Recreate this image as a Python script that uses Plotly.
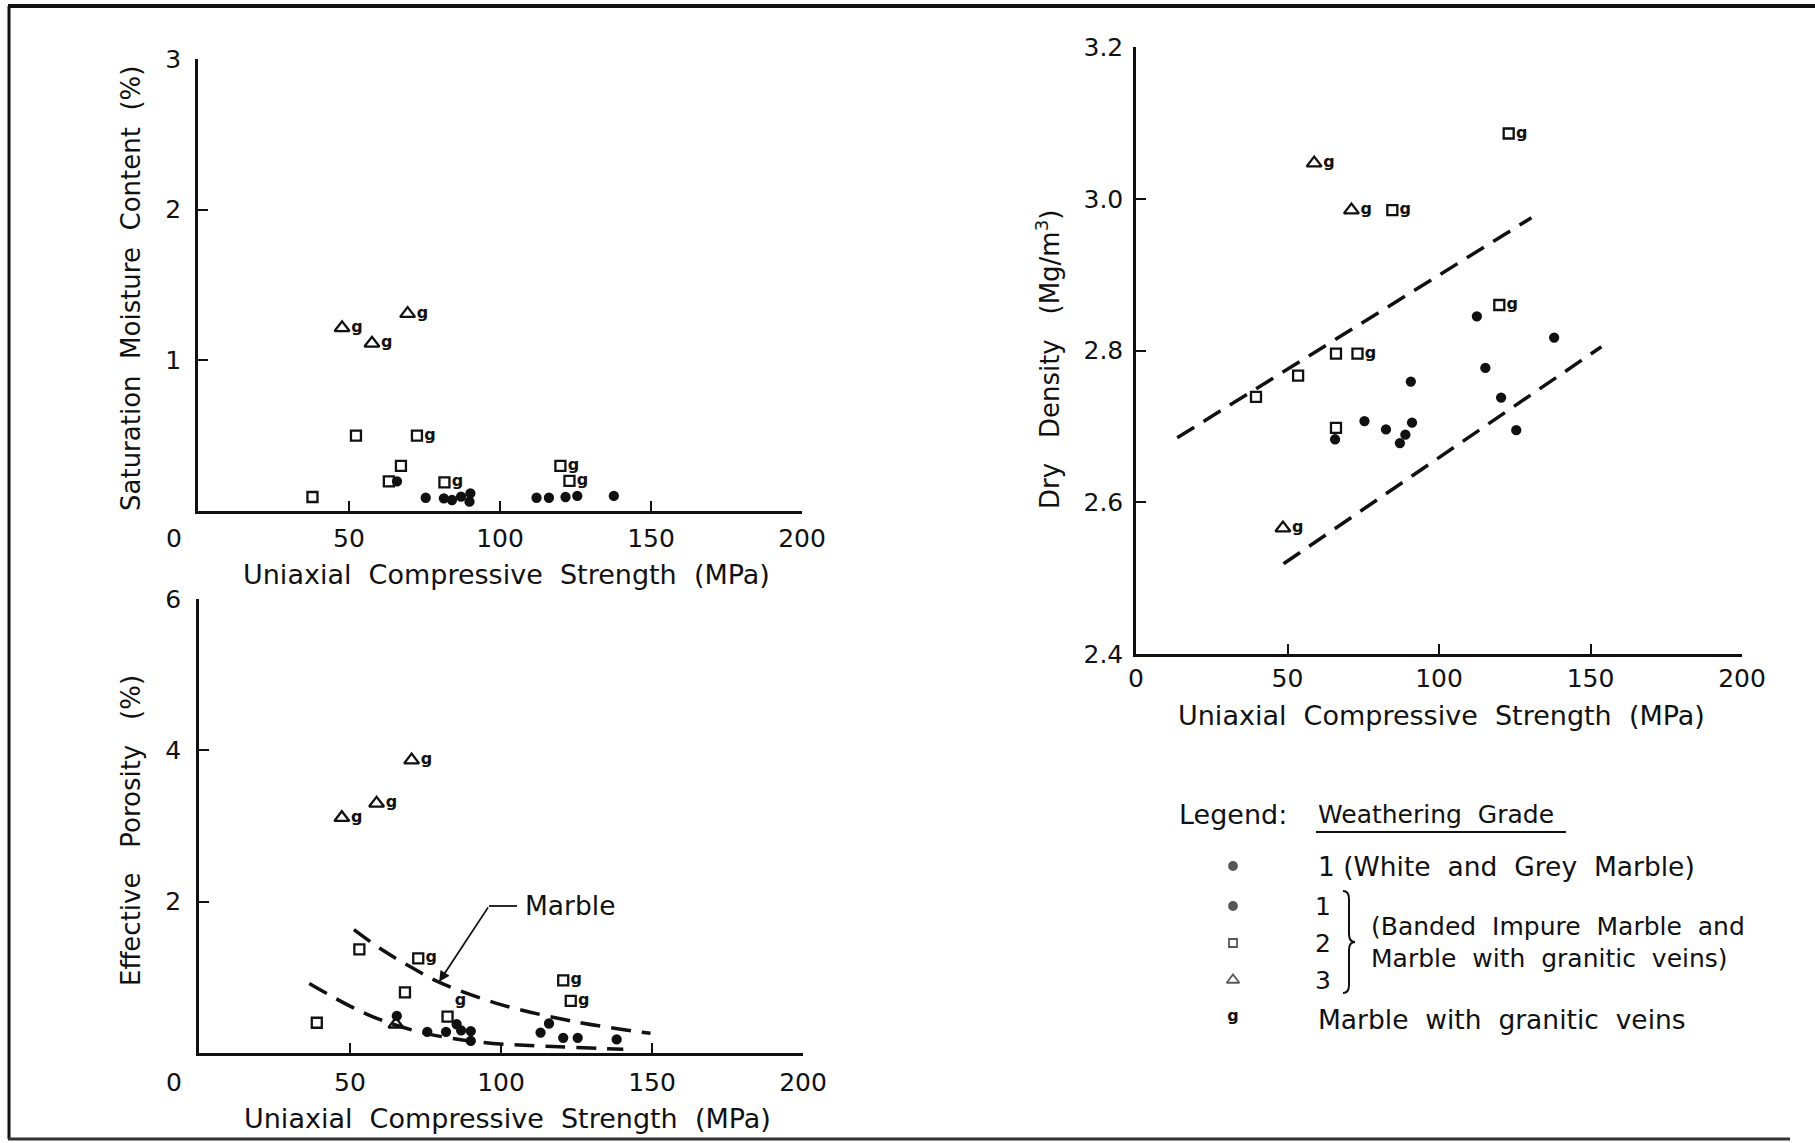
import plotly.graph_objects as go

W, H = 1815, 1143
FONT = "DejaVu Sans"
BLACK = "#111111"

# ---------------- Saturation moisture content (top-left) ----------------
sat_g1_ucs = [65.9, 75.4, 81.4, 84.1, 87.1, 90.2, 89.9, 112.1, 116.2, 121.7, 125.6, 137.7]
sat_g1_val = [0.197, 0.088, 0.084, 0.073, 0.095, 0.117, 0.062, 0.088, 0.088, 0.093, 0.100, 0.100]
sat_g2_ucs = [37.9, 52.3, 72.5, 67.2, 63.2, 81.6, 120.0, 123.0]
sat_g2_val = [0.093, 0.50, 0.50, 0.30, 0.197, 0.19, 0.30, 0.20]
sat_g2_veins = [False, False, True, False, False, True, True, True]
sat_g3_ucs = [47.7, 57.6, 69.4]
sat_g3_val = [1.216, 1.113, 1.310]
sat_g3_veins = [True, True, True]

# ---------------- Effective porosity (bottom-left) ----------------
por_g1_ucs = [65.5, 75.6, 81.8, 85.3, 86.8, 90.0, 90.0, 113.1, 115.9, 120.6, 125.4, 138.3]
por_g1_val = [0.49, 0.28, 0.28, 0.38, 0.30, 0.29, 0.16, 0.27, 0.39, 0.20, 0.20, 0.18]
por_g2_ucs = [39.0, 53.1, 72.6, 68.2, 82.3, 120.6, 123.1]
por_g2_val = [0.40, 1.37, 1.25, 0.80, 0.48, 0.96, 0.69]
por_g2_veins = [False, False, True, False, True, True, True]
por_g2_gpos = ["middle right", "middle right", "middle right", "middle right",
               "top right", "middle right", "middle right"]
por_g3_ucs = [47.3, 58.8, 70.4, 65.2]
por_g3_val = [3.11, 3.30, 3.87, 0.38]
por_g3_veins = [True, True, True, False]
# dashed "Marble" envelope curves
por_upper_ucs = [51.3, 60, 70, 79.8, 100, 125, 149.5]
por_upper_val = [1.63, 1.38, 1.14, 0.93, 0.64, 0.41, 0.26]
por_lower_ucs = [36.5, 50, 60, 75, 94, 115, 140.5]
por_lower_val = [0.92, 0.62, 0.44, 0.26, 0.14, 0.09, 0.05]

# ---------------- Dry density (right) ----------------
dd_g1_ucs = [112.5, 138.0, 115.3, 90.7, 120.5, 75.4, 91.1, 82.5, 65.7, 88.9, 87.1, 125.5]
dd_g1_val = [2.845, 2.817, 2.777, 2.759, 2.738, 2.707, 2.705, 2.696, 2.683, 2.689, 2.678, 2.695]
dd_g2_ucs = [123.0, 84.6, 119.9, 66.0, 73.1, 53.5, 39.6, 66.0]
dd_g2_val = [3.086, 2.985, 2.860, 2.796, 2.796, 2.767, 2.739, 2.698]
dd_g2_veins = [True, True, True, False, True, False, False, False]
dd_g3_ucs = [58.8, 71.1, 48.5]
dd_g3_val = [3.047, 2.985, 2.566]
dd_g3_veins = [True, True, True]
dd_upper_ucs = [13.6, 130.5]
dd_upper_val = [2.685, 2.975]
dd_lower_ucs = [48.7, 153.6]
dd_lower_val = [2.519, 2.805]

x_ticks_left = [50, 100, 150, 200]
sat_ticks = [1, 2, 3]
por_ticks = [2, 4, 6]
x_ticks_right = [0, 50, 100, 150, 200]
dd_ticks = [2.4, 2.6, 2.8, 3.0, 3.2]

fig = go.Figure()


def add_group(xa, ya, ucs, vals, symbol, size, veins=None, gpos="middle right"):
    text = ["g" if v else "" for v in veins] if veins else None
    fig.add_trace(go.Scatter(
        x=ucs, y=vals, xaxis=xa, yaxis=ya,
        mode="markers+text" if veins else "markers",
        text=text, textposition=gpos,
        textfont=dict(family=FONT, size=16, color=BLACK, weight="bold"),
        marker=dict(symbol=symbol, size=size, color=BLACK,
                    line=dict(color=BLACK, width=2.3)),
        cliponaxis=False, showlegend=False, hoverinfo="skip"))


def add_dash(xa, ya, ucs, vals, shape="linear"):
    fig.add_trace(go.Scatter(
        x=ucs, y=vals, xaxis=xa, yaxis=ya, mode="lines",
        line=dict(color=BLACK, width=3.5, dash="20px,11px", shape=shape),
        showlegend=False, hoverinfo="skip"))


# top-left
add_group("x", "y", sat_g1_ucs, sat_g1_val, "circle", 8)
add_group("x", "y", sat_g2_ucs, sat_g2_val, "square-open", 10, sat_g2_veins)
add_group("x", "y", sat_g3_ucs, sat_g3_val, "triangle-up-open", 13, sat_g3_veins)
# bottom-left
add_dash("x2", "y2", por_upper_ucs, por_upper_val, "spline")
add_dash("x2", "y2", por_lower_ucs, por_lower_val, "spline")
add_group("x2", "y2", por_g1_ucs, por_g1_val, "circle", 8)
add_group("x2", "y2", por_g2_ucs, por_g2_val, "square-open", 10, por_g2_veins, por_g2_gpos)
add_group("x2", "y2", por_g3_ucs, por_g3_val, "triangle-up-open", 13, por_g3_veins)
# right
add_dash("x3", "y3", dd_upper_ucs, dd_upper_val)
add_dash("x3", "y3", dd_lower_ucs, dd_lower_val)
add_group("x3", "y3", dd_g1_ucs, dd_g1_val, "circle", 8)
add_group("x3", "y3", dd_g2_ucs, dd_g2_val, "square-open", 10, dd_g2_veins)
add_group("x3", "y3", dd_g3_ucs, dd_g3_val, "triangle-up-open", 13, dd_g3_veins)

# legend glyphs (pixel overlay axis)
leg_x = [1233, 1233, 1233, 1233]
leg_y = [866, 906, 943, 980]
leg_sym = ["circle", "circle", "square-open", "triangle-up-open"]
leg_size = [8, 8, 8, 11]
fig.add_trace(go.Scatter(
    x=leg_x, y=leg_y, xaxis="x4", yaxis="y4", mode="markers",
    marker=dict(symbol=leg_sym, size=leg_size, color=BLACK, line=dict(color=BLACK, width=1.8)),
    showlegend=False, hoverinfo="skip", cliponaxis=False))
fig.add_trace(go.Scatter(
    x=[1233], y=[1017], xaxis="x4", yaxis="y4", mode="text", text=["g"],
    textfont=dict(family=FONT, size=16, color=BLACK, weight="bold"),
    showlegend=False, hoverinfo="skip", cliponaxis=False))


def px_x(p):
    return p / W


def px_y(p):
    return 1 - p / H


common = dict(showline=True, linecolor=BLACK, linewidth=2.5, ticks="inside",
              ticklen=10, tickwidth=2, tickcolor=BLACK, showgrid=False,
              zeroline=False, fixedrange=True, automargin=False,
              tickfont=dict(family=FONT, size=25, color=BLACK))

fig.update_layout(
    width=W, height=H, autosize=False,
    margin=dict(l=0, r=0, t=0, b=0, pad=0, autoexpand=False),
    paper_bgcolor="white", plot_bgcolor="rgba(0,0,0,0)",
    font=dict(family=FONT, color=BLACK), showlegend=False,
    xaxis=dict(domain=[px_x(198), px_x(802)], range=[0, 200], anchor="y",
               tickvals=x_ticks_left, ticklabelstandoff=3, **common),
    yaxis=dict(domain=[px_y(511), px_y(59)], range=[0, 3], anchor="x",
               tickvals=sat_ticks, ticklabelstandoff=9, **common),
    xaxis2=dict(domain=[px_x(199), px_x(803)], range=[0, 200], anchor="y2",
                tickvals=x_ticks_left, ticklabelstandoff=5, **common),
    yaxis2=dict(domain=[px_y(1053), px_y(599)], range=[0, 6], anchor="x2",
                tickvals=por_ticks, ticklabelstandoff=10, **common),
    xaxis3=dict(domain=[px_x(1136), px_x(1742)], range=[0, 200], anchor="y3",
                tickvals=x_ticks_right, ticklabelstandoff=0, **common),
    yaxis3=dict(domain=[px_y(654), px_y(47)], range=[2.4, 3.2], anchor="x3",
                tickvals=dd_ticks, tickformat=".1f", ticklabelstandoff=5, **common),
    xaxis4=dict(domain=[0, 1], range=[0, W], anchor="y4", visible=False,
                fixedrange=True, automargin=False),
    yaxis4=dict(domain=[0, 1], range=[H, 0], anchor="x4", visible=False,
                fixedrange=True, automargin=False),
)


def txt(x, y, s, xanchor="center", angle=0, size=25):
    fig.add_annotation(x=x, y=y, xref="x4", yref="y4", text=s, showarrow=False,
                       xanchor=xanchor, yanchor="middle", textangle=angle,
                       font=dict(family=FONT, size=size, color=BLACK))


# axis titles
txt(506, 574, "Uniaxial  Compressive  Strength  (MPa)", size=27)
txt(507, 1118, "Uniaxial  Compressive  Strength  (MPa)", size=27)
txt(1441, 715, "Uniaxial  Compressive  Strength  (MPa)", size=27)
txt(131, 289, "Saturation  Moisture  Content  (%)", angle=-90, size=26)
txt(131, 831, "Effective   Porosity   (%)", angle=-90, size=26)
txt(1048, 360, "Dry   Density   (Mg/m<sup>3</sup>)", angle=-90, size=26)
# shared origin labels of the left panels
txt(174, 538, "0", size=25)
txt(174, 1082, "0", size=25)

# Marble label with leader
txt(523, 905, "Marble", xanchor="left", size=26.5)
fig.add_shape(type="line", xref="x4", yref="y4", x0=517, y0=906, x1=489, y1=906,
              line=dict(color=BLACK, width=1.8))
fig.add_annotation(x=79.5, y=0.94, xref="x2", yref="y2", ax=50, ay=-76,
                   text="", showarrow=True, arrowhead=2, arrowsize=1.2,
                   arrowwidth=1.8, arrowcolor=BLACK)

# legend text
txt(1177, 814, "Legend:", xanchor="left", size=27)
txt(1316, 814, "Weathering  Grade", xanchor="left")
fig.add_shape(type="line", xref="x4", yref="y4", x0=1316, y0=832, x1=1566, y1=832,
              line=dict(color=BLACK, width=2))
txt(1316, 866, "1 (White  and  Grey  Marble)", xanchor="left", size=26.5)
txt(1323, 906, "1")
txt(1323, 943, "2")
txt(1323, 980, "3")
fig.add_shape(type="path", xref="x4", yref="y4",
              path="M 1343,891 Q 1349,891 1349,899 L 1349,934 Q 1349,942 1355,942 "
                   "Q 1349,942 1349,950 L 1349,985 Q 1349,993 1343,993",
              line=dict(color=BLACK, width=2))
txt(1369, 926, "(Banded  Impure  Marble  and", xanchor="left")
txt(1369, 958, "Marble  with  granitic  veins)", xanchor="left")
txt(1316, 1019, "Marble  with  granitic  veins", xanchor="left", size=26.5)

# outer frame of the scanned figure (paper coordinates)
fig.add_shape(type="line", xref="paper", yref="paper", x0=8 / W, y0=px_y(6), x1=1, y1=px_y(6),
              line=dict(color=BLACK, width=4))
fig.add_shape(type="line", xref="paper", yref="paper", x0=9 / W, y0=px_y(6), x1=9 / W, y1=px_y(1139),
              line=dict(color=BLACK, width=3))
fig.add_shape(type="line", xref="paper", yref="paper", x0=8 / W, y0=px_y(1139), x1=1790 / W,
              y1=px_y(1139), line=dict(color="#333333", width=3))

fig.write_html("out.html")
